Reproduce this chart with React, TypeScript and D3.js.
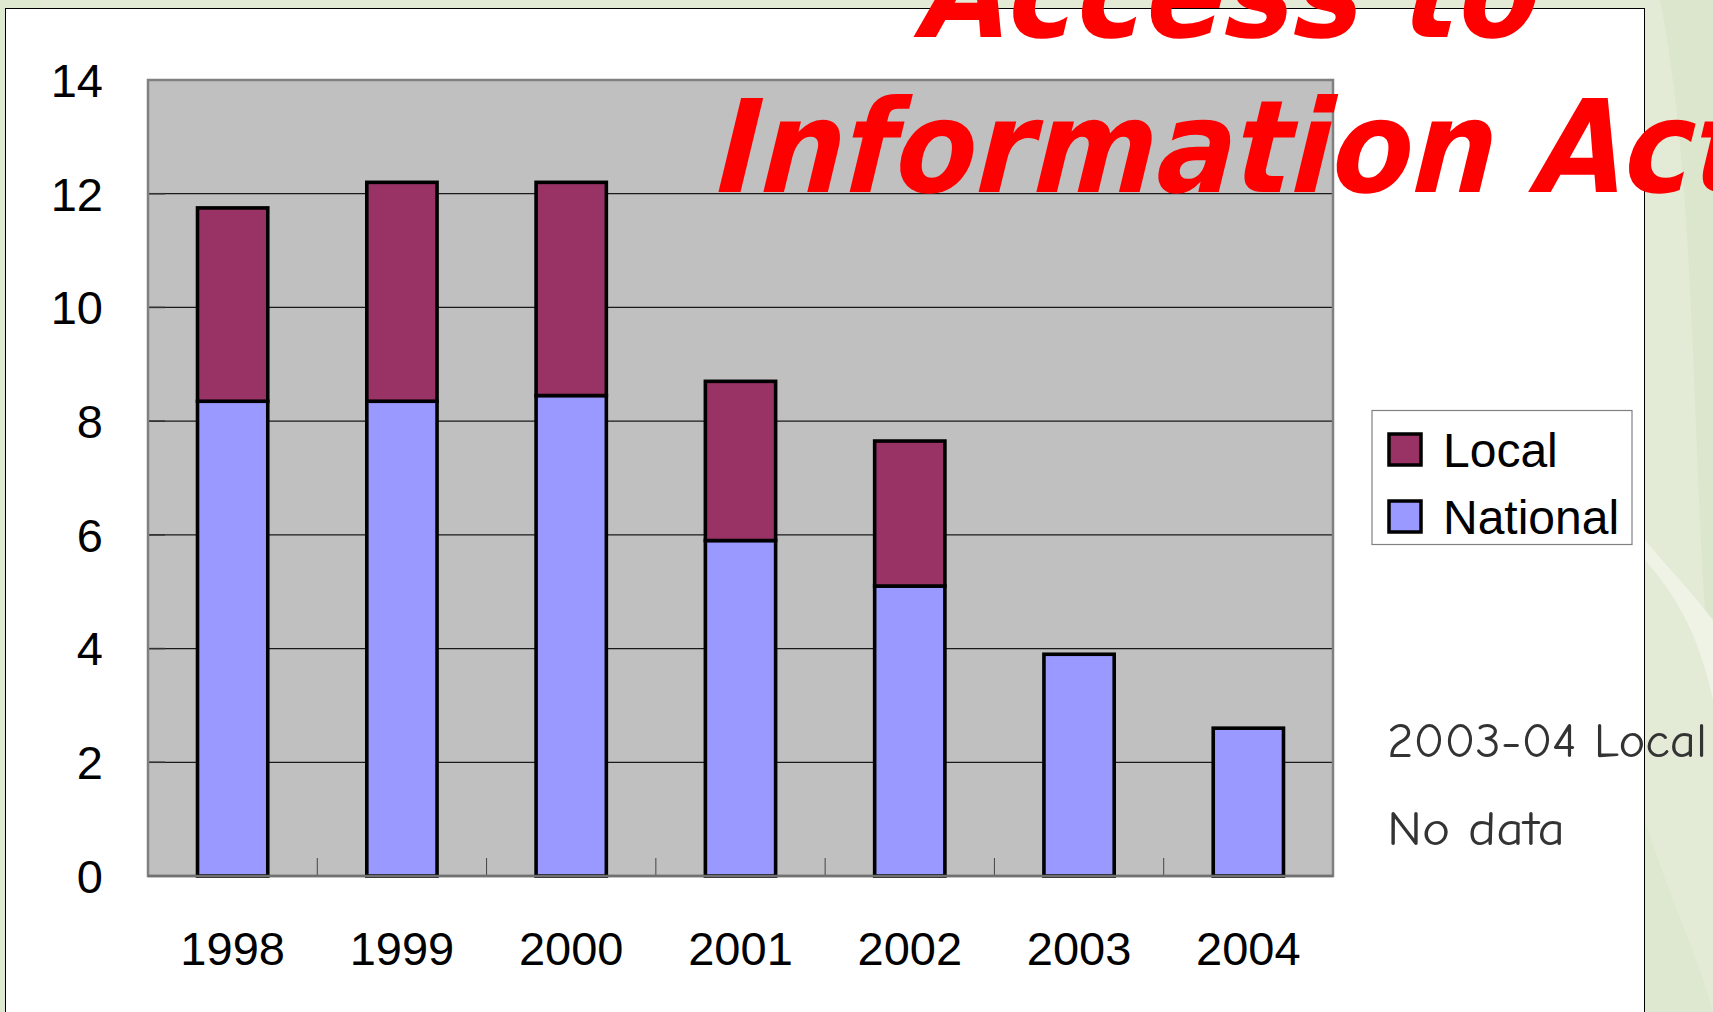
import React from "react";
import { scaleBand, scaleLinear, stack } from "d3";

// chart values
const years = ["1998", "1999", "2000", "2001", "2002", "2003", "2004"];
const national = [8.35, 8.35, 8.45, 5.9, 5.1, 3.9, 2.6];
const local = [3.4, 3.85, 3.75, 2.8, 2.55, 0, 0];
const yTicks = [0, 2, 4, 6, 8, 10, 12, 14];
const seriesNames = ["National", "Local"];
const legendOrder = ["Local", "National"];
const noteLines = ["2003-04 Local", "No data"];

const COLORS: Record<string, string> = { National: "#9999ff", Local: "#993366" };

const W = 1713;
const H = 1012;
const plot = { left: 148, top: 80, right: 1333, bottom: 876 };
const axisFont = "'Liberation Sans', Arial, sans-serif";

function Background() {
  return (
    <g>
      <rect x={0} y={0} width={W} height={H} fill="#e3ebd7" />
      <path d="M1660,0 C1700,200 1690,500 1713,700 L1713,0 Z" fill="#d9e5c9" opacity={0.8} />
      <path d="M1645,560 C1680,600 1700,640 1713,700 L1713,620 C1690,590 1670,570 1645,540 Z" fill="#eef3e6" />
      <path d="M1645,820 C1670,900 1700,960 1713,1012 L1645,1012 Z" fill="#dce7cd" opacity={0.7} />
      <path d="M0,0 L40,0 L20,1012 L0,1012 Z" fill="#dfe9d2" />
      <rect x={5.5} y={8.5} width={1639} height={1100} fill="#ffffff" stroke="#000" strokeWidth={1} />
    </g>
  );
}

function Bars({ x, y }) {
  const rows = years.map((yr, i) => ({ year: yr, National: national[i], Local: local[i] }));
  const layers = stack().keys(seriesNames)(rows as any);
  return (
    <g>
      {layers.map((layer) =>
        layer.map((d, i) =>
          d[1] - d[0] > 0 ? (
            <rect
              key={`${layer.key}-${years[i]}`}
              x={x(years[i])}
              y={y(d[1])}
              width={x.bandwidth()}
              height={y(d[0]) - y(d[1])}
              fill={COLORS[layer.key]}
              stroke="#000"
              strokeWidth={3.6}
            />
          ) : null
        )
      )}
    </g>
  );
}

export default function App() {
  const x = scaleBand()
    .domain(years)
    .range([plot.left, plot.right])
    .paddingInner(0.585)
    .paddingOuter(0.2925);

  const y = scaleLinear().domain([0, 14]).range([plot.bottom, plot.top]);
  const step = x.step();

  return (
    <svg
      width={W}
      height={H}
      style={{ position: "absolute", left: 0, top: 0, display: "block" }}
    >
      <Background />

      {/* plot area */}
      <rect
        x={plot.left}
        y={plot.top}
        width={plot.right - plot.left}
        height={plot.bottom - plot.top}
        fill="#c0c0c0"
      />
      {yTicks.slice(1, -1).map((t) => (
        <line key={`g${t}`} x1={plot.left} x2={plot.right} y1={y(t)} y2={y(t)} stroke="#1a1a1a" strokeWidth={1.2} />
      ))}
      {yTicks.map((t) => (
        <line key={`t${t}`} x1={plot.left} x2={plot.left + 17} y1={y(t)} y2={y(t)} stroke="#333" strokeWidth={1.5} />
      ))}
      {years.slice(1).map((yr) => (
        <line
          key={`xt${yr}`}
          x1={x(yr)! - (step - x.bandwidth()) / 2}
          x2={x(yr)! - (step - x.bandwidth()) / 2}
          y1={plot.bottom}
          y2={plot.bottom - 18}
          stroke="#444"
          strokeWidth={1}
        />
      ))}
      <line x1={plot.right} x2={plot.right} y1={plot.bottom} y2={plot.bottom - 18} stroke="#444" strokeWidth={1} />
      <rect
        x={plot.left}
        y={plot.top}
        width={plot.right - plot.left}
        height={plot.bottom - plot.top}
        fill="none"
        stroke="#808080"
        strokeWidth={2.5}
      />

      <Bars x={x} y={y} />
      <line x1={plot.left} x2={plot.right} y1={plot.bottom} y2={plot.bottom} stroke="#707070" strokeWidth={2.5} />

      {/* y axis labels */}
      {yTicks.map((t) => (
        <text
          key={`yl${t}`}
          x={103}
          y={y(t)}
          dy="0.36em"
          textAnchor="end"
          fontFamily={axisFont}
          fontSize={47}
          fill="#000"
        >
          {t}
        </text>
      ))}

      {/* x axis labels */}
      {years.map((yr) => (
        <text
          key={`xl${yr}`}
          x={x(yr)! + x.bandwidth() / 2}
          y={965}
          textAnchor="middle"
          fontFamily={axisFont}
          fontSize={47}
          fill="#000"
        >
          {yr}
        </text>
      ))}

      {/* legend */}
      <g>
        <rect x={1372} y={410.5} width={260} height={134} fill="#fff" stroke="#808080" strokeWidth={1.2} />
        {legendOrder.map((name, i) => (
          <g key={name} transform={`translate(0, ${i * 67})`}>
            <rect x={1389} y={434} width={32} height={31} fill={COLORS[name]} stroke="#000" strokeWidth={3.5} />
            <text x={1443} y={467} fontFamily={axisFont} fontSize={48} fill="#000">
              {name}
            </text>
          </g>
        ))}
      </g>

      {/* note */}
      {noteLines.map((line, i) => (
        <text
          key={line}
          x={1387}
          y={757 + i * 88}
          fontFamily="'Comic Sans MS', 'Comic Neue', 'DejaVu Sans', sans-serif"
          fontSize={48}
          fill="#333"
          textLength={i === 0 ? 320 : 178}
          lengthAdjust="spacingAndGlyphs"
        >
          {line}
        </text>
      ))}

      {/* title */}
      <g
        fontFamily="'DejaVu Sans', Verdana, sans-serif"
        fontWeight="bold"
        fontStyle="italic"
        fontSize={129}
        fill="#ff0000"
      >
        <text transform="translate(921, 37) scale(0.9, 1) skewX(-4)">Access to</text>
        <text transform="translate(716, 192) scale(0.91, 1) skewX(-4)">Information Act</text>
      </g>
    </svg>
  );
}
